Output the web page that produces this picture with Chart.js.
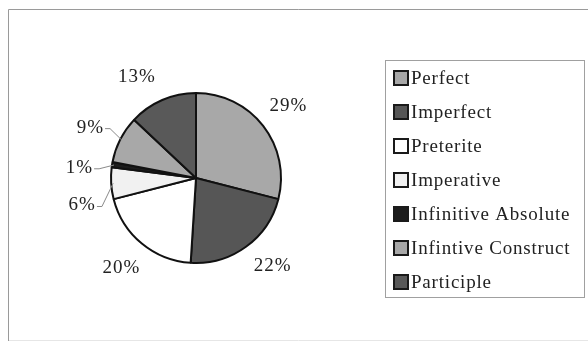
<!DOCTYPE html>
<html>
<head>
<meta charset="utf-8">
<script src="https://cdn.jsdelivr.net/npm/chart.js@4"></script>
<style>
  html, body { margin: 0; padding: 0; background: #ffffff; }
  #wrap { width: 588px; height: 345px; position: relative; }
</style>
</head>
<body>
<div id="wrap"><canvas id="c" width="588" height="345"></canvas></div>
<script>
// ---- data ----
const categories = ['Perfect', 'Imperfect', 'Preterite', 'Imperative', 'Infinitive Absolute', 'Infintive Construct', 'Participle'];
const percentages = [29, 22, 20, 6, 1, 9, 13];
const sliceColors = ['#a8a8a8', '#565656', '#ffffff', '#f1f1f1', '#1c1c1c', '#a8a8a8', '#595959'];

const FONT = '"Liberation Serif", "Times New Roman", serif';

const framePlugin = {
  id: 'frame',
  beforeDraw(chart) {
    const ctx = chart.ctx;
    ctx.save();
    ctx.fillStyle = '#ffffff';
    ctx.fillRect(0, 0, chart.width, chart.height);
    ctx.lineWidth = 1;
    ctx.strokeStyle = '#9a9a9a';
    ctx.beginPath();
    ctx.moveTo(8.5, 341); ctx.lineTo(8.5, 9.5); ctx.lineTo(chart.width, 9.5);
    ctx.stroke();
    ctx.strokeStyle = '#e6e6e6';
    ctx.beginPath();
    ctx.moveTo(9, 340.5); ctx.lineTo(chart.width, 340.5);
    ctx.stroke();
    ctx.restore();
  }
};

const labelPlugin = {
  id: 'pctLabels',
  afterDatasetsDraw(chart, args, opts) {
    const ctx = chart.ctx;
    const meta = chart.getDatasetMeta(0);
    const values = chart.data.datasets[0].data;
    ctx.save();
    ctx.font = opts.fontSize + 'px ' + FONT;
    if ('letterSpacing' in ctx) ctx.letterSpacing = '1px';
    ctx.fillStyle = '#222222';
    ctx.textAlign = 'center';
    ctx.textBaseline = 'middle';
    meta.data.forEach((arc, i) => {
      const p = arc.getProps(['x', 'y', 'startAngle', 'endAngle', 'outerRadius'], true);
      const mid = (p.startAngle + p.endAngle) / 2;
      const a = mid + (opts.nudge[i] || 0) * Math.PI / 180;
      const d = p.outerRadius + opts.distance;
      const lx = p.x + Math.cos(a) * d;
      const ly = p.y + Math.sin(a) * d;
      const txt = values[i] + '%';
      ctx.fillText(txt, lx, ly);
      if (values[i] < 10) {
        const w = ctx.measureText(txt).width;
        const ex = p.x + Math.cos(mid) * (p.outerRadius - 2);
        const ey = p.y + Math.sin(mid) * (p.outerRadius - 2);
        const sx = lx + w / 2 + 1;
        ctx.save();
        ctx.strokeStyle = '#8a8a8a';
        ctx.lineWidth = 1;
        ctx.beginPath();
        ctx.moveTo(sx, ly + 1);
        ctx.lineTo(sx + 5, ly + 1);
        ctx.lineTo(ex, ey);
        ctx.stroke();
        ctx.restore();
      }
    });
    ctx.restore();
  }
};

const legendPlugin = {
  id: 'boxLegend',
  afterDraw(chart, args, opts) {
    const ctx = chart.ctx;
    const ds = chart.data.datasets[0];
    ctx.save();
    ctx.strokeStyle = '#a0a0a0';
    ctx.lineWidth = 1;
    ctx.strokeRect(opts.left + 0.5, opts.top + 0.5, opts.width, opts.height);
    ctx.font = opts.fontSize + 'px ' + FONT;
    if ('letterSpacing' in ctx) ctx.letterSpacing = '0.8px';
    ctx.textBaseline = 'middle';
    ctx.textAlign = 'left';
    chart.data.labels.forEach((lab, i) => {
      const cy = opts.top + opts.firstRow + i * opts.rowGap;
      const bx = opts.left + 8;
      const bs = opts.box;
      ctx.fillStyle = ds.backgroundColor[i];
      ctx.fillRect(bx, cy - bs / 2, bs, bs);
      ctx.strokeStyle = '#1a1a1a';
      ctx.lineWidth = 2;
      ctx.strokeRect(bx + 1, cy - bs / 2 + 1, bs - 2, bs - 2);
      ctx.fillStyle = '#222222';
      ctx.fillText(lab, bx + bs + 2, cy + 1);
    });
    ctx.restore();
  }
};

new Chart(document.getElementById('c'), {
  type: 'pie',
  data: {
    labels: categories,
    datasets: [{
      data: percentages,
      backgroundColor: sliceColors,
      borderColor: '#111111',
      borderWidth: 2,
      radius: 85
    }]
  },
  options: {
    responsive: false,
    animation: false,
    events: [],
    layout: { padding: { left: 20, right: 216, top: 21, bottom: 10 } },
    plugins: {
      legend: { display: false },
      tooltip: { enabled: false },
      pctLabels: { fontSize: 19, distance: 32, nudge: [0, -5, 0, -10, -4, -1.5, -7] },
      boxLegend: { left: 385, top: 60, width: 199, height: 237, firstRow: 18, rowGap: 34, box: 16, fontSize: 19 }
    }
  },
  plugins: [framePlugin, labelPlugin, legendPlugin]
});
</script>
</body>
</html>
